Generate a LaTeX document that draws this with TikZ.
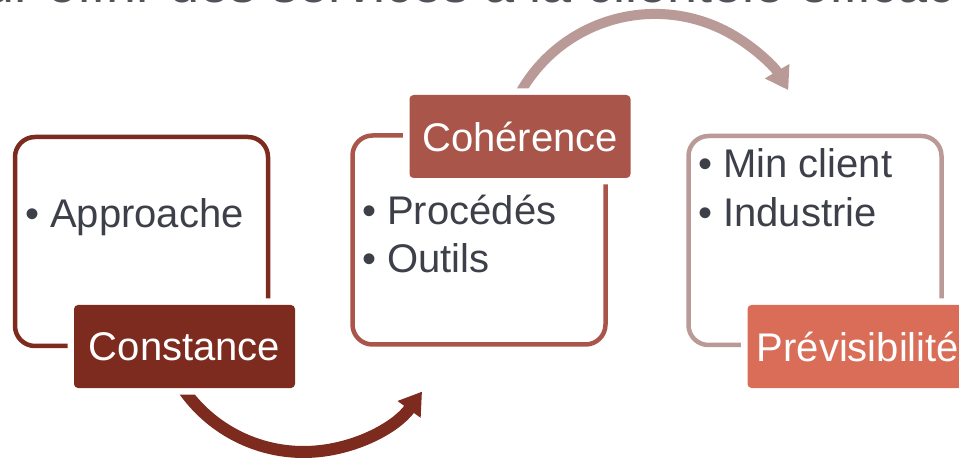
\documentclass[tikz,border=0pt]{standalone}
\usepackage{fontspec}
\setmainfont{Liberation Sans}
\usetikzlibrary{positioning, arrows.meta}

\definecolor{constred}{HTML}{7E2B1F}
\definecolor{cohred}{HTML}{A9554A}
\definecolor{prevrose}{HTML}{B99A96}
\definecolor{prevorange}{HTML}{D96D58}
\definecolor{bodygray}{HTML}{3E4049}

\begin{document}
\begin{tikzpicture}[x=1pt, y=1pt,
    framebox/.style = {draw, line width=4.5pt, rounded corners=20pt, inner sep=0pt,
                       minimum width=253pt, minimum height=209pt},
    stagebox/.style = {rounded corners=4pt, text=white, inner sep=0pt,
                       minimum width=221pt, minimum height=83pt,
                       font=\fontsize{40pt}{48pt}\selectfont,
                       preaction={draw=white, line width=13pt}},
    bullettext/.style = {anchor=base west, inner sep=0pt, text=bodygray,
                         font=\fontsize{40pt}{48pt}\selectfont},
    flow/.style = {-{Triangle[width=27pt, length=22pt]}}]
    \useasboundingbox (0,0) rectangle (959,464);
    \clip (0,0) rectangle (959,464);

    % Title (cut off by the top edge)
    \node[anchor=base west, inner sep=0pt, text=bodygray!90,
          font=\fontsize{54pt}{60pt}\selectfont] (title) at (-82,461.5)
          {Pour offrir des services à la clientèle efficaces};

    % Frames
    \node[framebox, draw=constred] (frameA) at (141.5,222.5) {};
    \node[framebox, draw=cohred] (frameB) at (479,224) {};
    \node[framebox, draw=prevrose] (frameC) at (815,223.5) {};

    % Arrows
    \coordinate (flowA) at (179.8,80);
    \coordinate (flowB) at (520.6,372);
    \draw[flow, constred, line width=12pt] (flowA)
        arc[start angle=212.4, end angle=324, radius=146.5];
    \draw[flow, prevrose, line width=10pt] (flowB)
        arc[start angle=150.3, end angle=30.5, radius=154.7];

    % Stages
    \node[stagebox, fill=constred] (constance) at (184.5,117.5) {Constance};
    \node[stagebox, fill=cohred] (coherence) at (520,327.5) {Cohérence};
    \node[stagebox, fill=prevorange] (previsibilite) at (858,117.5) {Prévisibilité};

    % Bullets
    \node[bullettext] (approache) at (25,236) {• Approache};
    \node[bullettext] (procedes) at (362,239) {• Procédés};
    \node[bullettext] (outils) at ([yshift=-48pt]procedes.base west) {• Outils};
    \node[bullettext] (minclient) at (698,286) {• Min client};
    \node[bullettext] (industrie) at ([yshift=-49pt]minclient.base west) {• Industrie};
\end{tikzpicture}
\end{document}
